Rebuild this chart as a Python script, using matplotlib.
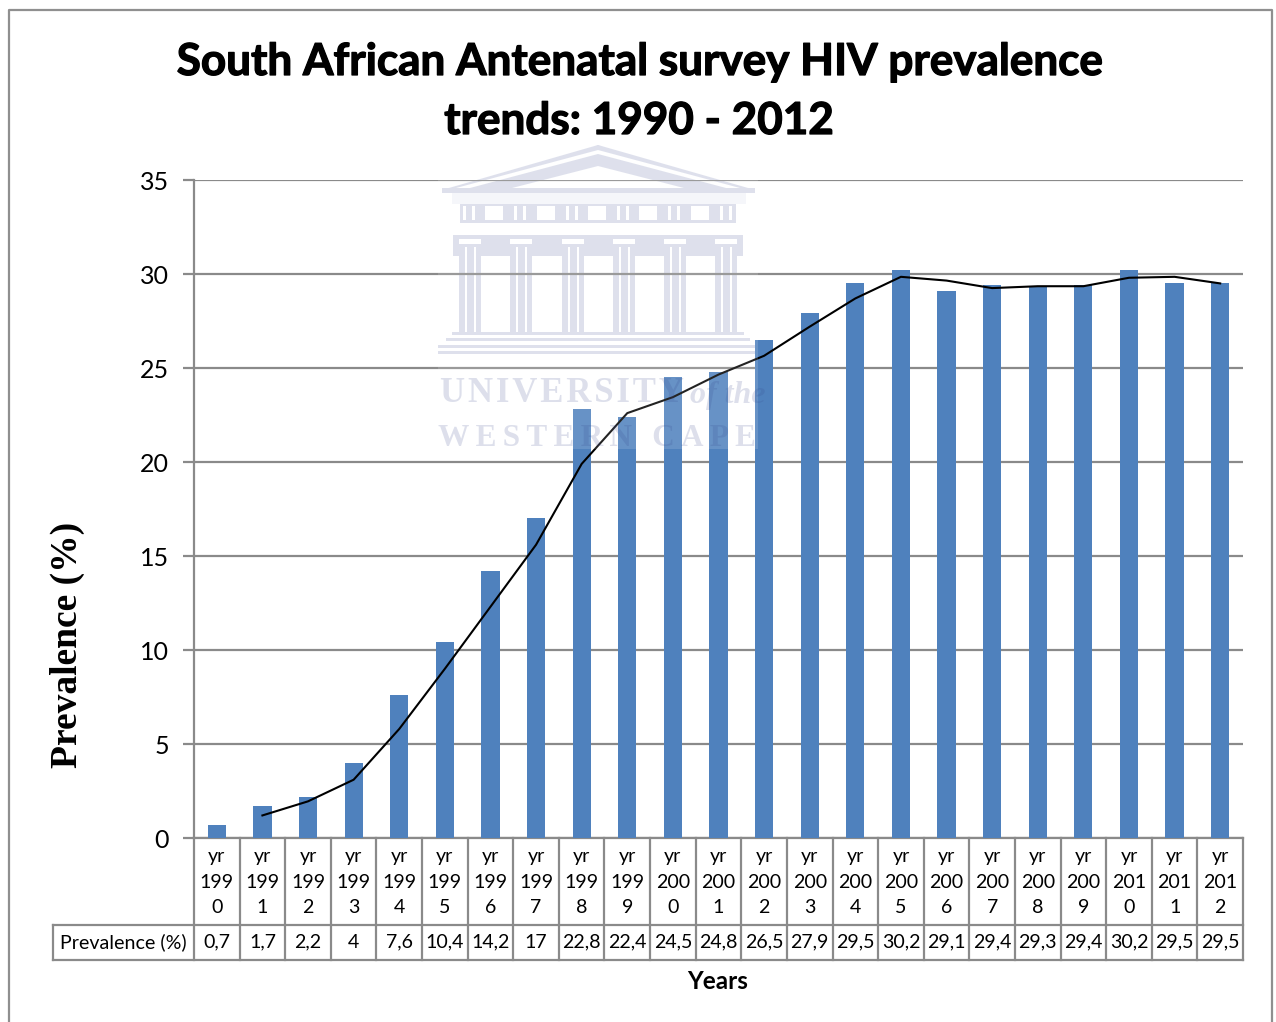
import numpy as np
import matplotlib
matplotlib.use('Agg')
import matplotlib.pyplot as plt
import matplotlib.patheffects as pe
from matplotlib.patches import Polygon, Rectangle

plt.rcParams['font.family'] = ['Lato', 'DejaVu Sans']

years = ['yr\n199\n0', 'yr\n199\n1', 'yr\n199\n2', 'yr\n199\n3', 'yr\n199\n4', 'yr\n199\n5',
         'yr\n199\n6', 'yr\n199\n7', 'yr\n199\n8', 'yr\n199\n9', 'yr\n200\n0', 'yr\n200\n1',
         'yr\n200\n2', 'yr\n200\n3', 'yr\n200\n4', 'yr\n200\n5', 'yr\n200\n6', 'yr\n200\n7',
         'yr\n200\n8', 'yr\n200\n9', 'yr\n201\n0', 'yr\n201\n1', 'yr\n201\n2']
prevalence = [0.7, 1.7, 2.2, 4, 7.6, 10.4, 14.2, 17, 22.8, 22.4, 24.5, 24.8,
              26.5, 27.9, 29.5, 30.2, 29.1, 29.4, 29.3, 29.4, 30.2, 29.5, 29.5]
prevalence_labels = ['0,7', '1,7', '2,2', '4', '7,6', '10,4', '14,2', '17', '22,8', '22,4', '24,5', '24,8',
                     '26,5', '27,9', '29,5', '30,2', '29,1', '29,4', '29,3', '29,4', '30,2', '29,5', '29,5']
# two-year moving average, starts at 1991
trend = [1.2, 1.95, 3.1, 5.8, 9, 12.3, 15.6, 19.9, 22.6, 23.45, 24.65,
         25.65, 27.2, 28.7, 29.85, 29.65, 29.25, 29.35, 29.35, 29.8, 29.85, 29.5]
yticks = [0, 5, 10, 15, 20, 25, 30, 35]

W, H = 1276, 1022
GREY = '#8a8a8a'
CREST = '#d9dcea'
INK = '#36468c'

fig = plt.figure(figsize=(W / 100, H / 100), dpi=100, facecolor='white')


def pixel_axes(zorder):
    a = fig.add_axes([0, 0, 1, 1], zorder=zorder)
    a.set_xlim(0, W)
    a.set_ylim(H, 0)
    a.axis('off')
    return a


# temple crest sits behind the chart
under = pixel_axes(-1)


def block(x0, y0, x1, y1, color=CREST):
    under.add_patch(Rectangle((x0, y0), x1 - x0, y1 - y0, fc=color, ec='none'))


under.add_patch(Polygon([(598, 145), (755, 190), (442, 190)], closed=True, fc=CREST, ec='none'))
under.add_patch(Polygon([(598, 150), (740, 188), (456, 188)], closed=True, fc='white', ec='none'))
under.add_patch(Polygon([(598, 154), (726, 188), (470, 188)], closed=True, fc=CREST, ec='none'))
under.add_patch(Polygon([(598, 166), (684, 188), (512, 188)], closed=True, fc='white', ec='none'))
block(442, 188, 755, 193)
block(452, 193, 746, 204, '#f4f5fa')
block(460, 204, 736, 223)
for mx in [485, 537, 588, 639, 691]:
    block(mx, 206, mx + 18, 220, 'white')
for mx in [463, 514, 566, 617, 668, 720]:
    block(mx, 206, mx + 3, 220, 'white')
    block(mx + 9, 206, mx + 12, 220, 'white')
block(462, 223, 734, 235, 'white')
block(453, 235, 743, 256)
for cx in [470, 521, 573, 624, 675, 726]:
    block(cx - 11, 239, cx + 11, 244, 'white')
    block(cx - 11, 247, cx + 11, 332)
    block(cx - 5, 247, cx - 3, 332, 'white')
    block(cx + 4, 247, cx + 6, 332, 'white')
for sx0, sx1, sy in [(452, 744, 332), (446, 750, 338), (438, 756, 345), (438, 756, 351)]:
    block(sx0, sy, sx1, sy + 3)

ax = fig.add_axes([194 / W, 1 - 838 / H, 1049 / W, 658 / H])
ax.patch.set_alpha(0)

x = np.arange(len(prevalence))
ax.bar(x, prevalence, width=0.4, color='#4f81bd', zorder=3)
ax.plot(x[1:], trend, color='black', lw=1.5, zorder=4)

ax.set_xlim(-0.5, len(prevalence) - 0.5)
ax.set_ylim(0, 35)
ax.set_yticks(yticks)
ax.set_xticks([])
ax.grid(axis='y', color=GREY, lw=1.6, zorder=1)
ax.tick_params(axis='y', length=8, width=1.6, color=GREY, labelsize=18, pad=10, labelcolor='black')
for name in ['top', 'right']:
    ax.spines[name].set_visible(False)
for name in ['left', 'bottom']:
    ax.spines[name].set_color(GREY)
    ax.spines[name].set_linewidth(1.6)

# data table under the axis
trans = ax.get_xaxis_transform()
y_head = -87 / 658
y_bot = -122 / 658
x_first = -0.5 - 141 / (1049 / 23)
for i in range(len(prevalence) + 1):
    ax.plot([i - 0.5, i - 0.5], [0, y_bot], transform=trans, color=GREY, lw=1.6, clip_on=False)
ax.plot([x_first, x_first], [y_head, y_bot], transform=trans, color=GREY, lw=1.6, clip_on=False)
for yy in [y_head, y_bot]:
    ax.plot([x_first, len(prevalence) - 0.5], [yy, yy], transform=trans, color=GREY, lw=1.6, clip_on=False)
for i in x:
    ax.text(i, -44 / 658, years[i], transform=trans, ha='center', va='center', fontsize=14.1,
            linespacing=1.62, clip_on=False)
    ax.text(i, -104 / 658, prevalence_labels[i], transform=trans, ha='center', va='center',
            fontsize=14.1, clip_on=False)
ax.text((x_first - 0.5) / 2, -104 / 658, 'Prevalence (%)', transform=trans, ha='center', va='center',
        fontsize=14.1, clip_on=False)

thick = [pe.withStroke(linewidth=0.9, foreground='black')]
fig.text(639 / W, 1 - 62 / H, 'South African Antenatal survey HIV prevalence', ha='center', va='center',
         fontsize=31.7, fontweight='bold', path_effects=thick)
fig.text(639 / W, 1 - 121 / H, 'trends: 1990 - 2012', ha='center', va='center',
         fontsize=31.7, fontweight='bold', path_effects=thick)
fig.text(718 / W, 1 - 981 / H, 'Years', ha='center', va='center', fontsize=17.5, fontweight='bold')
fig.text(67 / W, 1 - 645 / H, 'Prevalence (%)', rotation=90, ha='center', va='center',
         fontsize=27, fontweight='bold', family='Liberation Serif')

# page frame and the crest wording go over the chart
over = pixel_axes(5)
over.plot([9, 9, 1272, 1272], [H, 10, 10, H], color='#8f8f8f', lw=1.6)
over.add_patch(Rectangle((438, 146), 320, 303, fc='white', ec='none', alpha=0.14))

over.text(440, 393, '\u200a'.join('UNIVERSITY'), family='Liberation Serif', fontweight='bold', fontsize=25,
          color=INK, alpha=0.17, ha='left', va='center')
over.text(690, 395, 'of the', family='Liberation Serif', style='italic', fontweight='bold', fontsize=23,
          color=INK, alpha=0.17, ha='left', va='center')
over.text(438, 439, '\u2009'.join('WESTERN CAPE'), family='Liberation Serif', fontweight='bold', fontsize=22.5,
          color=INK, alpha=0.17, ha='left', va='center')

fig.savefig('out.png', dpi=100)
plt.close('all')
